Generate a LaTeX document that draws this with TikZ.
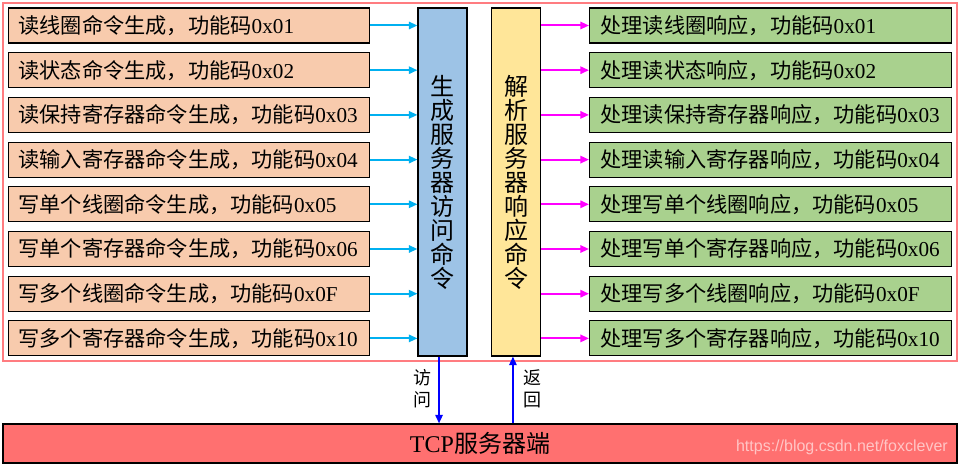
\documentclass[tikz,border=0pt]{standalone}
\usepackage{fontspec}
\setmainfont{Liberation Serif}
\newfontfamily\cjk{Noto Sans CJK SC}
\newfontfamily\wmfont{Liberation Sans}
\usetikzlibrary{arrows.meta}
\definecolor{peach}{HTML}{F8CBAD}
\definecolor{skyb}{HTML}{9DC3E6}
\definecolor{paley}{HTML}{FFE699}
\definecolor{leaf}{HTML}{A9D18E}
\definecolor{tcpred}{HTML}{FF7070}
\definecolor{cyanarr}{HTML}{00B0F0}
\definecolor{magarr}{HTML}{FF00FF}
\definecolor{frame}{HTML}{FF7C80}
\tikzset{
  box/.style={draw, line width=0.8pt, anchor=west, align=left, font=\fontsize{15.9}{18}\selectfont},
  lbox/.style={box, fill=peach, text width=255.75pt, inner xsep=7.5pt, minimum height=26.25pt},
  rbox/.style={box, fill=leaf, text width=255pt, inner xsep=8.25pt, minimum height=26.25pt},
  vbox/.style={draw, line width=0.8pt, minimum width=36.75pt, minimum height=261pt, align=center, font=\cjk\fontsize{18}{18}\selectfont},
  carr/.style={draw=cyanarr, line width=1.5pt, -{Triangle[length=6.5pt,width=5.5pt]}},
  marr/.style={draw=magarr, line width=1.5pt, -{Triangle[length=6.5pt,width=5.5pt]}},
  barr/.style={draw=blue, line width=1.5pt, -{Triangle[length=6.5pt,width=5.5pt]}},
  vlabel/.style={align=center, font=\cjk\fontsize{13.5}{16.5}\selectfont}
}
\begin{document}
\begin{tikzpicture}[x=0.75pt,y=-0.75pt]
\useasboundingbox (0,0) rectangle (959,466);
\draw[frame, line width=0.8pt] (3,3) rectangle (957,361);
% left boxes
\foreach \i/\t/\c in {1/读线圈命令生成，功能码/01, 2/读状态命令生成，功能码/02, 3/读保持寄存器命令生成，功能码/03, 4/读输入寄存器命令生成，功能码/04, 5/写单个线圈命令生成，功能码/05, 6/写单个寄存器命令生成，功能码/06, 7/写多个线圈命令生成，功能码/0F, 8/写多个寄存器命令生成，功能码/10}{
  \node[lbox] (l\i) at (8, {25.5+(\i-1)*44.7}) {{\cjk \t}0x\c};
}
\foreach \i/\t/\c in {1/处理读线圈响应，功能码/01, 2/处理读状态响应，功能码/02, 3/处理读保持寄存器响应，功能码/03, 4/处理读输入寄存器响应，功能码/04, 5/处理写单个线圈响应，功能码/05, 6/处理写单个寄存器响应，功能码/06, 7/处理写多个线圈响应，功能码/0F, 8/处理写多个寄存器响应，功能码/10}{
  \node[rbox] (r\i) at (589, {25.5+(\i-1)*44.7}) {{\cjk \t}0x\c};
}
\node[vbox, fill=skyb] (gen) at (442.5,182) {生\\成\\服\\务\\器\\访\\问\\命\\令};
\node[vbox, fill=paley] (par) at (516,182) {解\\析\\服\\务\\器\\响\\应\\命\\令};
\foreach \i in {1,...,8}{
  \draw[carr] (l\i.east) -- (gen.west |- l\i.east);
  \draw[marr] (par.east |- r\i.west) -- (r\i.west);
}
\node[draw, line width=0.8pt, fill=tcpred, minimum width=715.5pt, minimum height=29.25pt, font=\fontsize{18}{18}\selectfont] (tcp) at (480,443.5) {TCP{\cjk 服务器端}};
\node[anchor=east, text=white, opacity=0.6, font=\wmfont\fontsize{12}{12}\selectfont, inner sep=0pt] (wm) at (948,447) {https://blog.csdn.net/foxclever};
\coordinate (gd) at ([xshift=-2.6pt]gen.south);
\coordinate (pu) at ([xshift=-2.3pt]par.south);
\draw[barr] (gd) -- (gd |- tcp.north);
\draw[barr] (pu |- tcp.north) -- (pu);
\node[vlabel] (lab1) at (422,389) {访\\问};
\node[vlabel] (lab2) at (532,389) {返\\回};
\end{tikzpicture}
\end{document}
